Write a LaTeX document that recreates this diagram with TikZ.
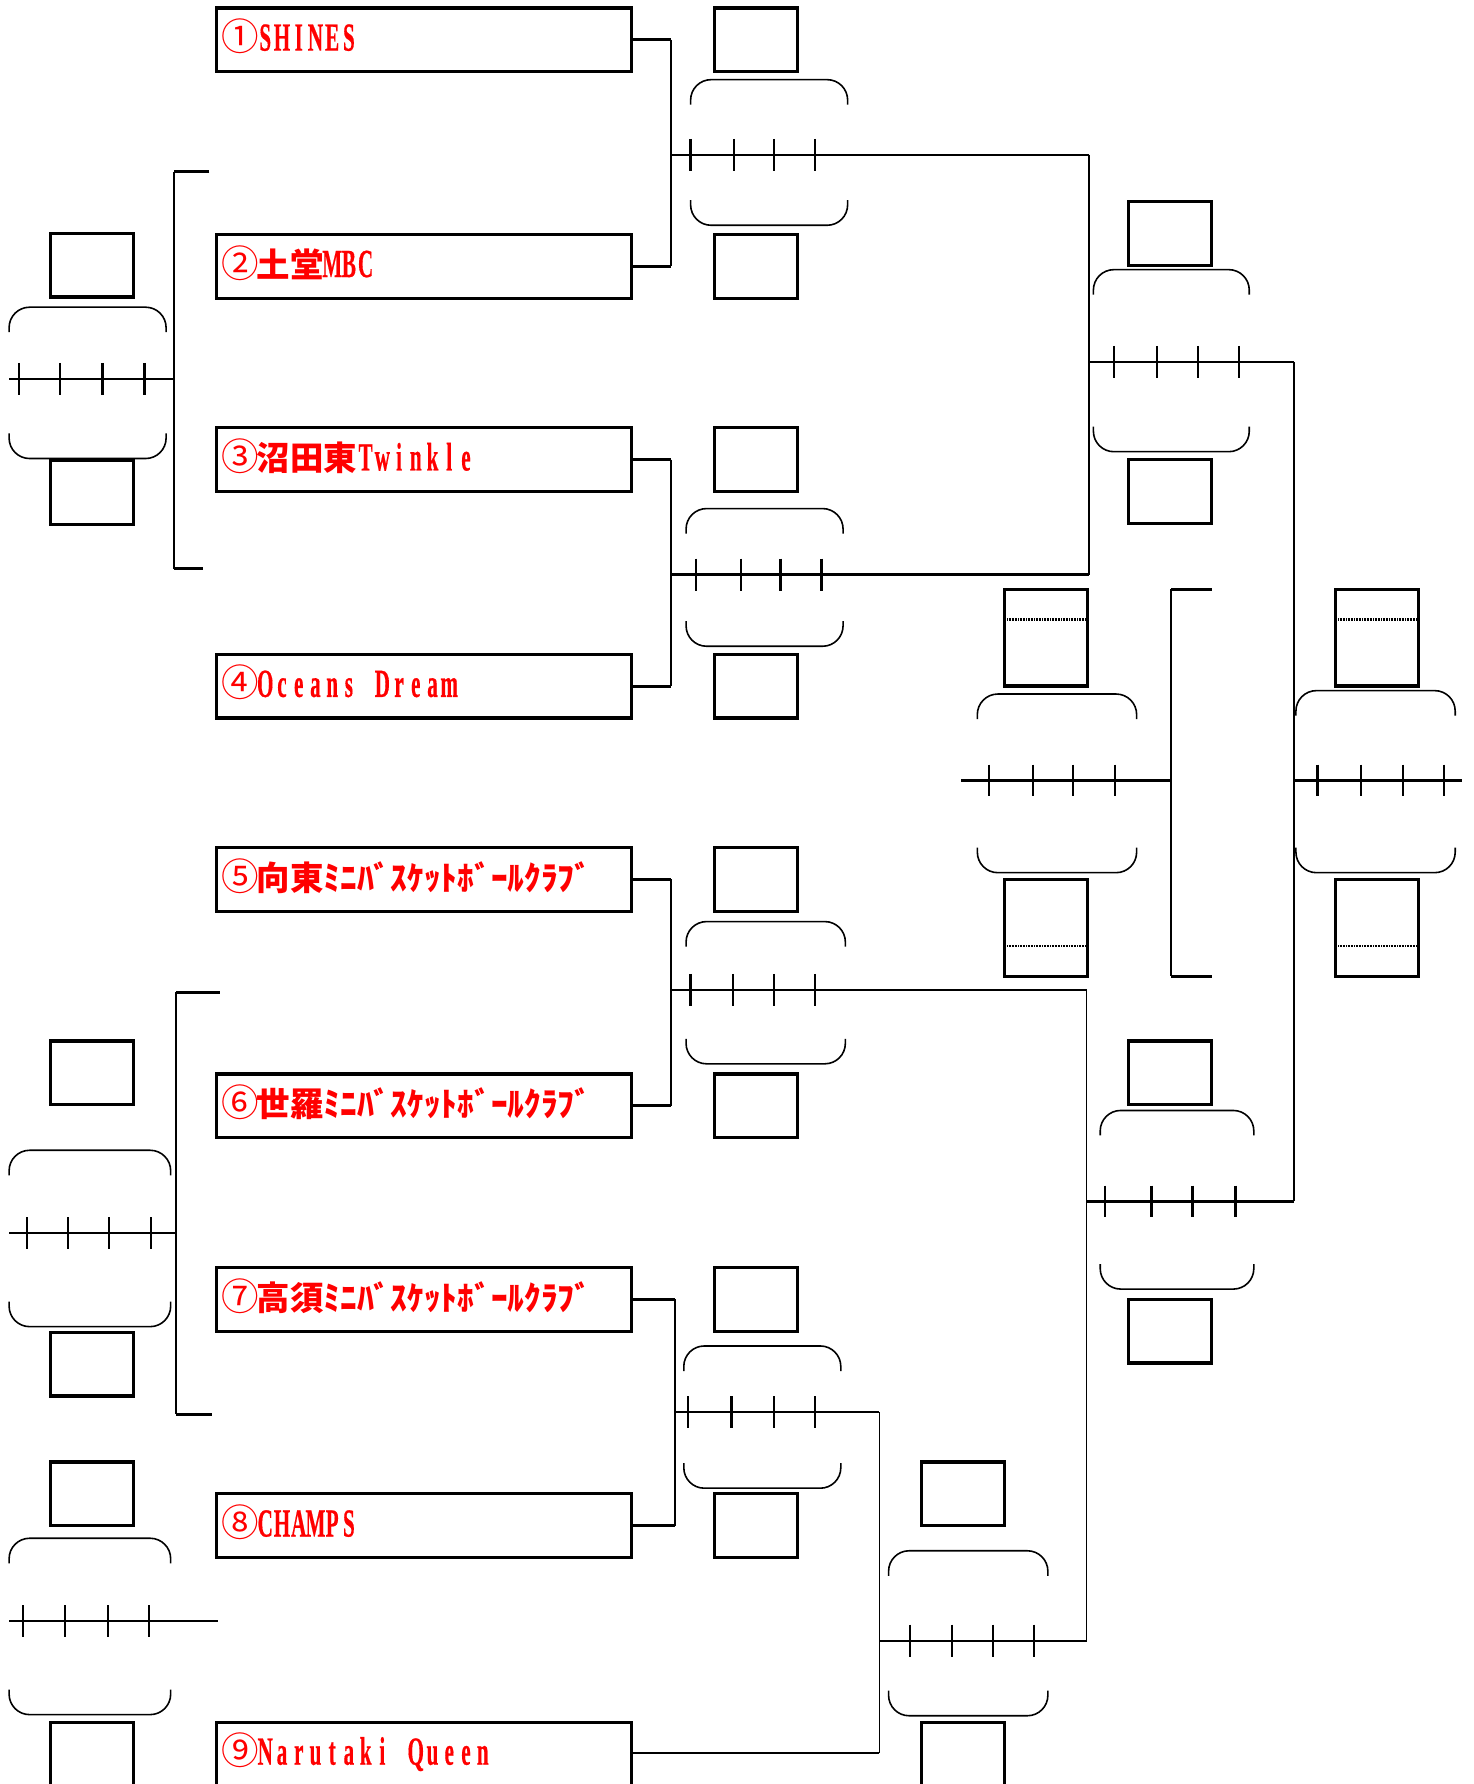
\documentclass[tikz,border=0pt]{standalone}
\usepackage{fontspec}
\usepackage{graphicx}
\setmainfont{Liberation Serif}
\newfontfamily\jpf{Noto Sans CJK JP}
\newfontfamily\latf{Liberation Serif}[BoldFeatures={FakeBold=0.6}]
\newcommand\la[1]{\makebox[7.35pt][c]{\scalebox{0.53}[1]{\latf\bfseries\fontsize{17.5}{17.5}\selectfont #1}}}
\ExplSyntaxOn
\NewDocumentCommand\lat{m}{\tl_map_inline:nn{#1}{\la{##1}}}
\ExplSyntaxOff
\newcommand\cn[1]{\makebox[14.7pt][c]{\jpf\fontsize{16.5}{16.5}\selectfont #1}}
\newcommand\jpt[1]{{\jpf\bfseries\fontsize{14.7}{15}\selectfont #1}}
\newcommand\hsp{\hspace*{7.35pt}}
\newcommand\parens[4]{%
  \draw[paren] (#1,#3+22) |- (#2,#3) -- (#2,#3+22);
  \draw[paren] (#1,#4-22) |- (#2,#4) -- (#2,#4-22);}
\newcommand\ticks[2]{\foreach \tx in {#2} {\draw[tick] (\tx,#1-14) -- (\tx,#1+14);}}
\tikzset{
  team/.style={draw, line width=1.4pt, rectangle, minimum width=182.5pt, minimum height=28pt, inner sep=0pt},
  sbox/.style={draw, line width=1.4pt, rectangle, minimum width=36.5pt, minimum height=28pt, inner sep=0pt},
  tbox/.style={sbox, minimum height=42.5pt},
  lab/.style={anchor=base west, inner sep=0pt, text=red},
  conn/.style={line width=0.8pt},
  stub/.style={line width=1.3pt},
  sline/.style={line width=1pt},
  tick/.style={line width=1pt},
  paren/.style={line width=0.7pt, rounded corners=9pt},
  dotline/.style={line width=1.2pt, dash pattern=on 0.35pt off 0.35pt},
}
\begin{document}
\begin{tikzpicture}[x=0.5pt,y=-0.5pt]
\fill[white] (0,0) rectangle (1295,1568);
\clip (0,0) rectangle (1295,1568);
% team boxes
\node[team] (t1) at (372.5,35) {};
\node[team] (t2) at (372.5,234) {};
\node[team] (t3) at (372.5,404) {};
\node[team] (t4) at (372.5,603) {};
\node[team] (t5) at (372.5,773) {};
\node[team] (t6) at (372.5,972) {};
\node[team] (t7) at (372.5,1142) {};
\node[team] (t8) at (372.5,1341) {};
\node[team] (t9) at (372.5,1542) {};
% labels
\node[lab] (l1) at (196,44.5) {\cn{①}\lat{SHINES}};
\node[lab] (l2) at (196,243.5) {\cn{②}\jpt{土堂}\lat{MBC}};
\node[lab] (l3) at (196,413.5) {\cn{③}\jpt{沼田東}\lat{Twinkle}};
\node[lab] (l4) at (196,612.5) {\cn{④}\lat{Oceans}\hsp\lat{Dream}};
\node[lab] (l5) at (196,782.5) {\cn{⑤}\jpt{向東ﾐﾆﾊﾞｽｹｯﾄﾎﾞｰﾙｸﾗﾌﾞ}};
\node[lab] (l6) at (196,981.5) {\cn{⑥}\jpt{世羅ﾐﾆﾊﾞｽｹｯﾄﾎﾞｰﾙｸﾗﾌﾞ}};
\node[lab] (l7) at (196,1151.5) {\cn{⑦}\jpt{高須ﾐﾆﾊﾞｽｹｯﾄﾎﾞｰﾙｸﾗﾌﾞ}};
\node[lab] (l8) at (196,1350.5) {\cn{⑧}\lat{CHAMPS}};
\node[lab] (l9) at (196,1551) {\cn{⑨}\lat{Narutaki}\hsp\lat{Queen}};
% score boxes
\node[sbox] (sa1) at (664.5,35) {};   \node[sbox] (sa2) at (664.5,234) {};
\node[sbox] (sb1) at (664.5,404) {};  \node[sbox] (sb2) at (664.5,603) {};
\node[sbox] (sc1) at (664.5,773) {};  \node[sbox] (sc2) at (664.5,972) {};
\node[sbox] (sd1) at (664.5,1142) {}; \node[sbox] (sd2) at (664.5,1341) {};
\node[sbox] (se1) at (846.5,1313) {}; \node[sbox] (se2) at (846.5,1542) {};
\node[sbox] (sst1) at (1028.5,205) {}; \node[sbox] (sst2) at (1028.5,432) {};
\node[sbox] (ssb1) at (1028.5,943) {}; \node[sbox] (ssb2) at (1028.5,1170) {};
\node[tbox] (sf1) at (1210.5,560.5) {}; \node[tbox] (sf2) at (1210.5,815.5) {};
\node[tbox] (sh1) at (919.5,560.5) {};  \node[tbox] (sh2) at (919.5,815.5) {};
\node[sbox] (sl11) at (81,233) {};  \node[sbox] (sl12) at (81,433) {};
\node[sbox] (sl21) at (81,943) {};  \node[sbox] (sl22) at (81,1199) {};
\node[sbox] (sl31) at (81,1313) {}; \node[sbox] (sl32) at (81,1542) {};
\foreach \n in {sf1,sh1} {\draw[dotline] ([yshift=-14pt,xshift=1pt]\n.north west) -- ([yshift=-14pt,xshift=-1pt]\n.north east);}
\foreach \n in {sf2,sh2} {\draw[dotline] ([yshift=14pt,xshift=1pt]\n.south west) -- ([yshift=14pt,xshift=-1pt]\n.south east);}
% match A
\coordinate (a1) at (590,35); \coordinate (a2) at (590,234);
\coordinate (as) at (590,136); \coordinate (ae) at (957,136);
\draw[stub] (t1.east) -- (a1); \draw[stub] (t2.east) -- (a2);
\draw[conn] (a1) -- (a2); \draw[sline] (as) -- (ae);
\ticks{136}{607,645,680,716} \parens{607}{745}{70}{198}
% match B
\coordinate (b1) at (590,404); \coordinate (b2) at (590,603);
\coordinate (bs) at (590,505); \coordinate (be) at (957,505);
\draw[stub] (t3.east) -- (b1); \draw[stub] (t4.east) -- (b2);
\draw[conn] (b1) -- (b2); \draw[sline] (bs) -- (be);
\ticks{505}{612,651,686,722} \parens{603}{741}{447}{568}
% semi top
\coordinate (sts) at (957,318); \coordinate (ste) at (1137,318);
\draw[conn] (ae) -- (be); \draw[sline] (sts) -- (ste);
\ticks{318}{979,1017,1053,1089} \parens{961}{1098}{237}{397}
% match C
\coordinate (c1) at (590,773); \coordinate (c2) at (590,972);
\coordinate (cs) at (590,870); \coordinate (ce) at (955,870);
\draw[stub] (t5.east) -- (c1); \draw[stub] (t6.east) -- (c2);
\draw[conn] (c1) -- (c2); \draw[sline] (cs) -- (ce);
\ticks{870}{607,644,680,716} \parens{603}{743}{810}{935}
% match D
\coordinate (d1) at (593,1142); \coordinate (d2) at (593,1341);
\coordinate (ds) at (593,1241); \coordinate (de) at (773,1241);
\draw[stub] (t7.east) -- (d1); \draw[stub] (t8.east) -- (d2);
\draw[conn] (d1) -- (d2); \draw[sline] (ds) -- (de);
\ticks{1241}{605,643,680,716} \parens{601}{739}{1183}{1308}
% match E
\coordinate (e1) at (773,1541);
\coordinate (es) at (773,1442); \coordinate (ee) at (955,1442);
\draw[sline] (t9.east |- e1) -- (e1); \draw[conn] (e1) -- (de);
\draw[sline] (es) -- (ee);
\ticks{1442}{800,837,873,909} \parens{781}{921}{1363}{1508}
% semi bottom
\coordinate (sbs) at (955,1056); \coordinate (sbe) at (1137,1056);
\draw[conn] (ce) -- (ee); \draw[sline] (sbs) -- (sbe);
\ticks{1056}{971,1012,1048,1086} \parens{967}{1102}{976}{1133}
% final
\draw[conn] (ste) -- (sbe);
\coordinate (fs) at (1137,686); \coordinate (fe) at (1285,686);
\draw[sline] (fs) -- (fe);
\ticks{686}{1158,1196,1233,1269} \parens{1139}{1279}{607}{767}
% third place
\coordinate (hs) at (845,686); \coordinate (he) at (1029,686);
\coordinate (hb1) at (1029,518); \coordinate (hb2) at (1029,858);
\coordinate (hb1e) at (1065,518); \coordinate (hb2e) at (1065,858);
\draw[sline] (hs) -- (he);
\draw[stub] (hb1e) -- (hb1); \draw[conn] (hb1) -- (hb2); \draw[stub] (hb2) -- (hb2e);
\ticks{686}{869,908,943,980} \parens{859}{999}{610}{767}
% left 1
\coordinate (p1) at (153,151); \coordinate (p1e) at (184,151);
\coordinate (p2) at (153,500); \coordinate (p2e) at (178,500);
\coordinate (p0) at (8,333); \coordinate (pm) at (153,333);
\draw[stub] (p1e) -- (p1); \draw[conn] (p1) -- (p2); \draw[stub] (p2) -- (p2e);
\draw[sline] (p0) -- (pm);
\ticks{333}{17,53,90,127} \parens{8}{146}{270}{403}
% left 2
\coordinate (q1) at (155,872); \coordinate (q1e) at (193,872);
\coordinate (q2) at (155,1243); \coordinate (q2e) at (186,1243);
\coordinate (q0) at (8,1084); \coordinate (qm) at (155,1084);
\draw[stub] (q1e) -- (q1); \draw[conn] (q1) -- (q2); \draw[stub] (q2) -- (q2e);
\draw[sline] (q0) -- (qm);
\ticks{1084}{24,60,96,133} \parens{8}{150}{1011}{1166}
% left 3
\coordinate (r0) at (8,1425); \coordinate (rm) at (192,1425);
\draw[sline] (r0) -- (rm);
\ticks{1425}{20,57,95,131} \parens{8}{150}{1352}{1507}
\end{tikzpicture}
\end{document}
